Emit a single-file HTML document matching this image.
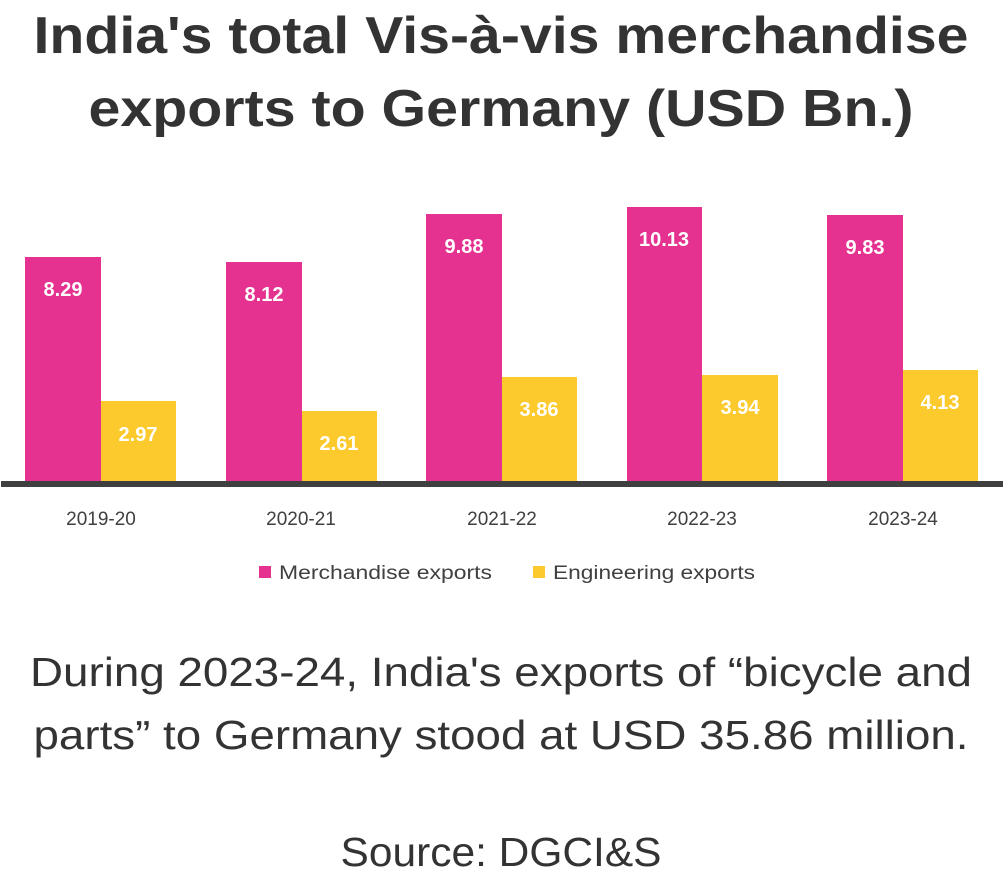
<!DOCTYPE html>
<html><head><style>body{margin:0;background:#fff}svg{display:block}</style></head><body>
<svg width="1003" height="869" xmlns="http://www.w3.org/2000/svg" font-family="Liberation Sans, sans-serif">
<g fill="#333" font-weight="bold" font-size="52" text-anchor="middle">
<text x="501" y="53" textLength="935" lengthAdjust="spacingAndGlyphs">India's total Vis-à-vis merchandise</text>
<text x="501" y="126" textLength="825" lengthAdjust="spacingAndGlyphs">exports to Germany (USD Bn.)</text>
</g>
<g fill="#E5318F">
<rect x="25" y="257" width="76" height="224"/>
<rect x="226" y="262" width="76" height="219"/>
<rect x="426" y="214" width="76" height="267"/>
<rect x="627" y="207" width="75" height="274"/>
<rect x="827" y="215" width="76" height="266"/>
</g>
<g fill="#FCCA2C">
<rect x="101" y="401" width="75" height="80"/>
<rect x="302" y="411" width="75" height="70"/>
<rect x="502" y="377" width="75" height="104"/>
<rect x="702" y="375" width="76" height="106"/>
<rect x="903" y="370" width="75" height="111"/>
</g>
<rect x="1" y="481" width="1002" height="6" fill="#3f3f3f"/>
<g fill="#fff" font-weight="bold" font-size="20" text-anchor="middle">
<text x="63" y="296">8.29</text><text x="264" y="301">8.12</text><text x="464" y="253">9.88</text><text x="664" y="246">10.13</text><text x="865" y="254">9.83</text>
<text x="138" y="441">2.97</text><text x="339" y="450">2.61</text><text x="539" y="416">3.86</text><text x="740" y="414">3.94</text><text x="940" y="409">4.13</text>
</g>
<g fill="#404040" font-size="19" text-anchor="middle">
<text x="101" y="525">2019-20</text><text x="301" y="525">2020-21</text><text x="502" y="525">2021-22</text><text x="702" y="525">2022-23</text><text x="903" y="525">2023-24</text>
</g>
<rect x="259" y="566" width="12" height="12" fill="#E5318F"/>
<rect x="533" y="566" width="12" height="12" fill="#FCCA2C"/>
<g fill="#404040" font-size="19">
<text x="279" y="579" textLength="213" lengthAdjust="spacingAndGlyphs">Merchandise exports</text>
<text x="553" y="579" textLength="202" lengthAdjust="spacingAndGlyphs">Engineering exports</text>
</g>
<g fill="#333" font-size="41" text-anchor="middle">
<text x="501" y="686" textLength="942" lengthAdjust="spacingAndGlyphs">During 2023-24, India's exports of “bicycle and</text>
<text x="501" y="749" textLength="935" lengthAdjust="spacingAndGlyphs">parts” to Germany stood at USD 35.86 million.</text>
<text x="501" y="866" textLength="321" lengthAdjust="spacingAndGlyphs">Source: DGCI&amp;S</text>
</g>
</svg>
</body></html>
